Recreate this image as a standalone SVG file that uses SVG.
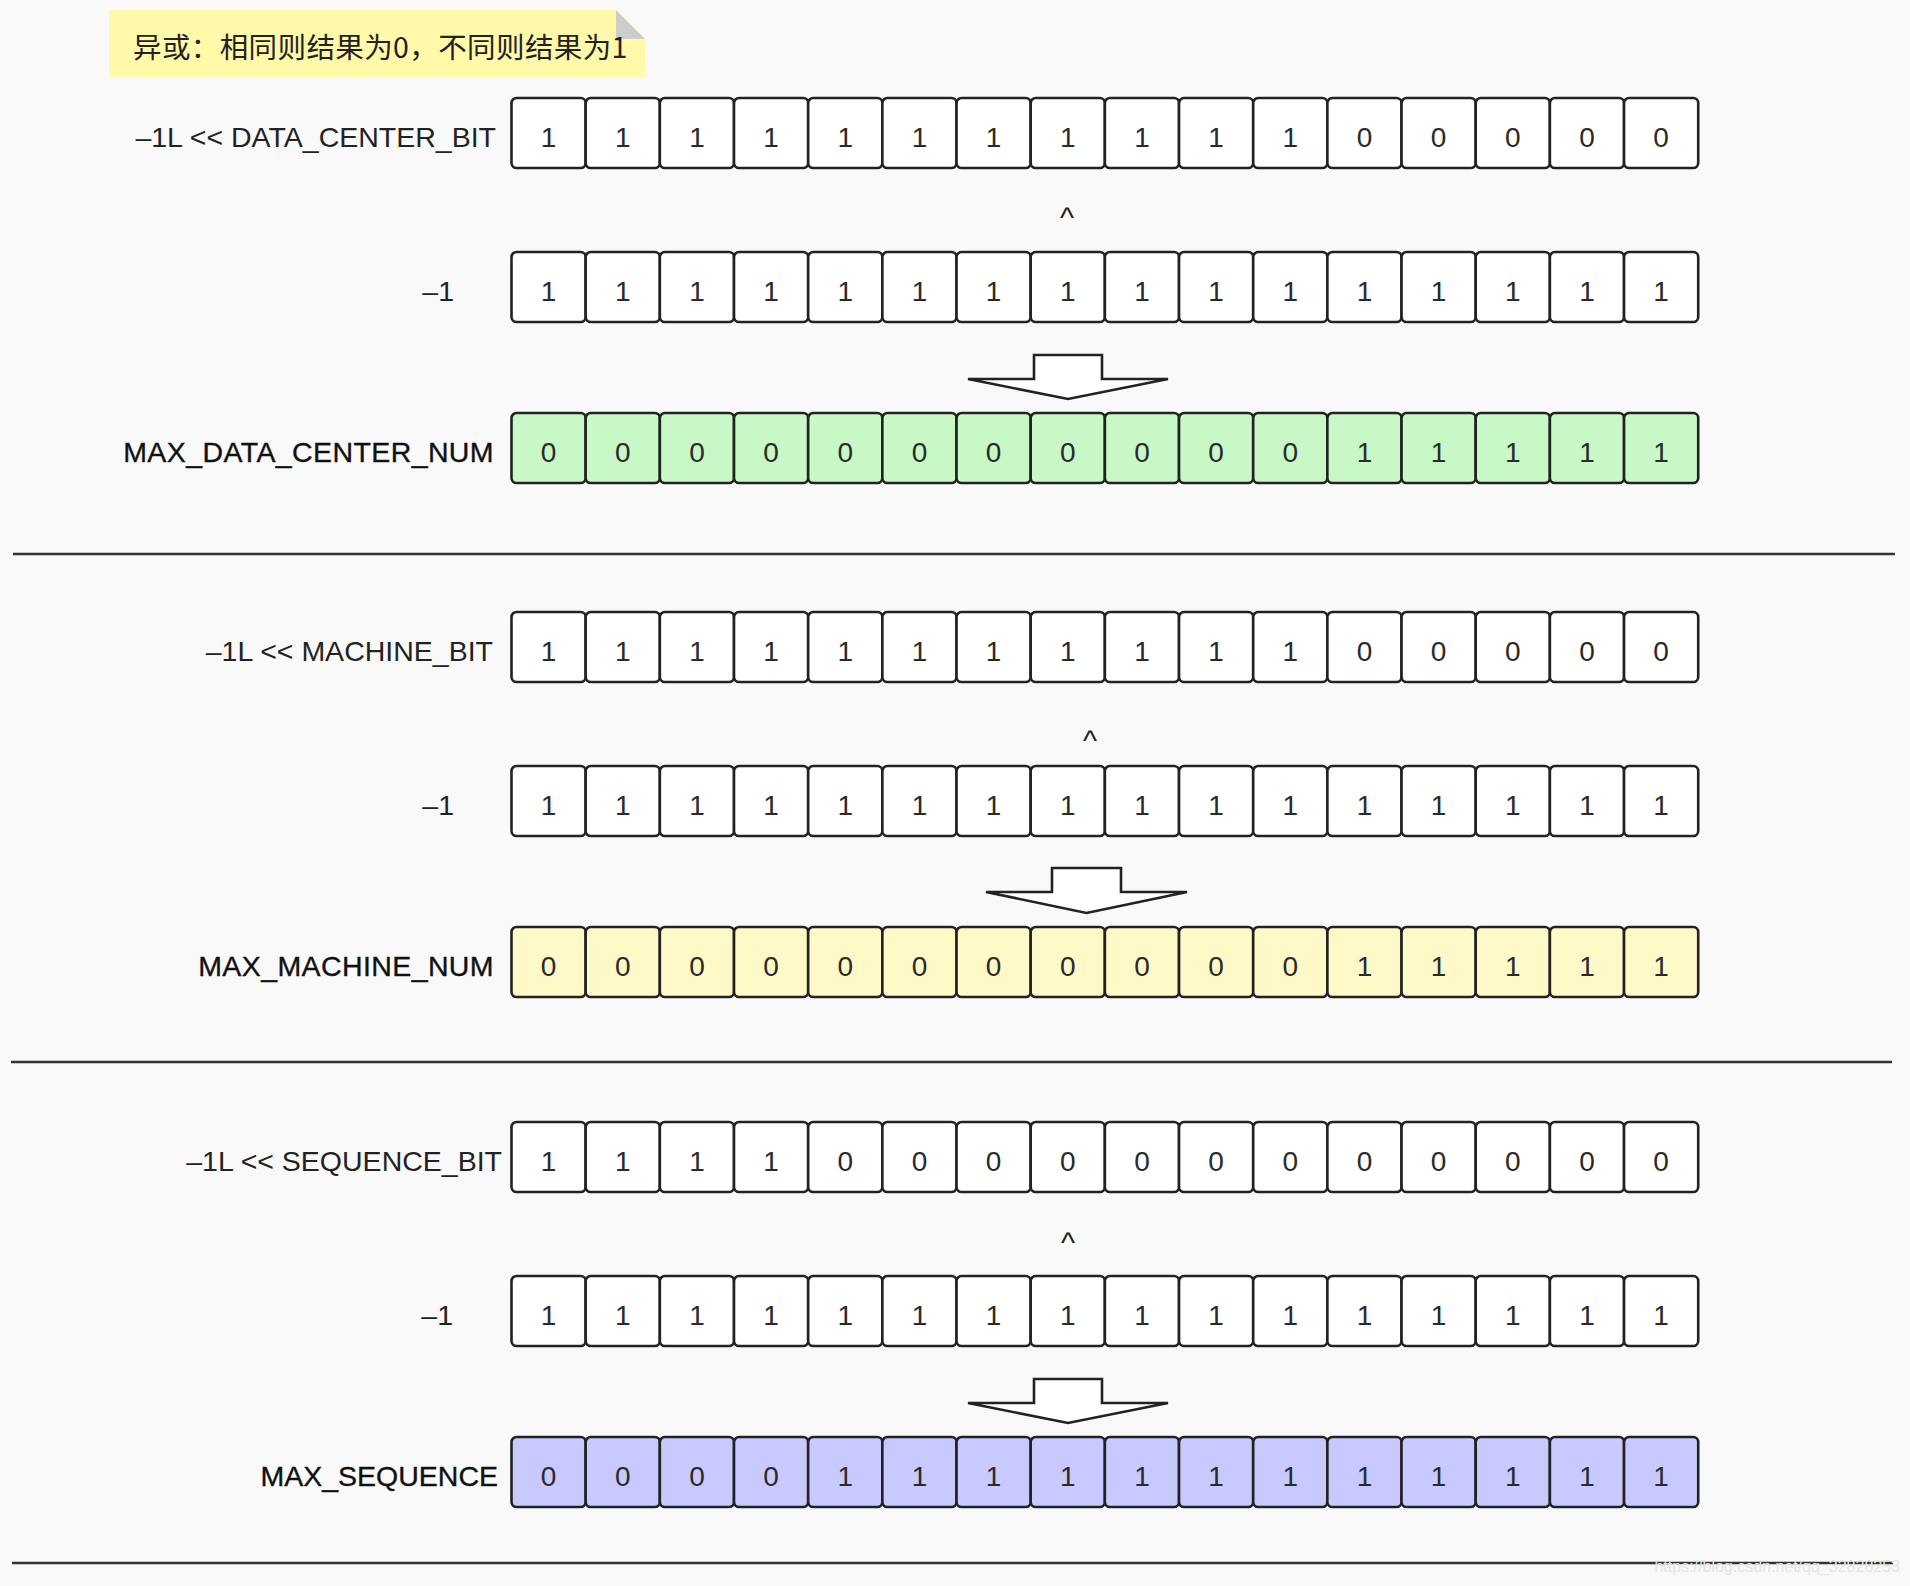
<svg xmlns="http://www.w3.org/2000/svg" width="1910" height="1586" viewBox="0 0 1910 1586">
<style>
.bg{fill:#f9f9f9}
.c{stroke:#222;stroke-width:2.6;rx:5;ry:5}
.w{fill:#ffffff}
.g{fill:#c8f8c6}
.y{fill:#fff9c8}
.b{fill:#c8caff}
.d{font-family:"Liberation Sans",Arial,sans-serif;font-size:28px;fill:#2a2a2a;text-anchor:middle}
.lbl{font-family:"Liberation Sans",Arial,sans-serif;font-size:28.5px;fill:#222;text-anchor:end}
.lbb{font-family:"Liberation Sans",Arial,sans-serif;font-size:28.5px;fill:#111;text-anchor:end;stroke:#111;stroke-width:0.35}
.car{font-family:"Liberation Sans",Arial,sans-serif;font-size:30px;fill:#222;text-anchor:middle}
.arr{fill:#fff;stroke:#222;stroke-width:2.6;stroke-linejoin:miter}
.sep{stroke:#333;stroke-width:2.6}
.note{font-family:"Noto Sans CJK SC","Liberation Sans",sans-serif;font-size:28.5px;letter-spacing:0.4px;fill:#222}
.wm{font-family:"Liberation Sans",Arial,sans-serif;font-size:16px;fill:#e4e4e4}
</style>
<rect class="bg" x="0" y="0" width="1910" height="1586"/>

<g id="note">
<path d="M109,10 H616 L645,39 V77 H109 Z" fill="#fff9a9"/>
<path d="M616,10 V39 H645 Z" fill="#cccccc"/>
<text class="note" x="133" y="58">异或：相同则结果为0，不同则结果为1</text>
</g>

<g id="row1" transform="translate(0,98)">
<text class="lbl" x="496" y="49">–1L &lt;&lt; DATA_CENTER_BIT</text>
<g class="w">
<rect class="c" x="511.5" y="0" width="74.17" height="70"/><rect class="c" x="585.67" y="0" width="74.17" height="70"/><rect class="c" x="659.84" y="0" width="74.17" height="70"/><rect class="c" x="734.01" y="0" width="74.17" height="70"/><rect class="c" x="808.18" y="0" width="74.17" height="70"/><rect class="c" x="882.35" y="0" width="74.17" height="70"/><rect class="c" x="956.52" y="0" width="74.17" height="70"/><rect class="c" x="1030.69" y="0" width="74.17" height="70"/><rect class="c" x="1104.86" y="0" width="74.17" height="70"/><rect class="c" x="1179.03" y="0" width="74.17" height="70"/><rect class="c" x="1253.2" y="0" width="74.17" height="70"/><rect class="c" x="1327.37" y="0" width="74.17" height="70"/><rect class="c" x="1401.54" y="0" width="74.17" height="70"/><rect class="c" x="1475.71" y="0" width="74.17" height="70"/><rect class="c" x="1549.88" y="0" width="74.17" height="70"/><rect class="c" x="1624.05" y="0" width="74.17" height="70"/>
</g>
<text class="d" x="548.59" y="48.5">1</text><text class="d" x="622.76" y="48.5">1</text><text class="d" x="696.93" y="48.5">1</text><text class="d" x="771.1" y="48.5">1</text><text class="d" x="845.27" y="48.5">1</text><text class="d" x="919.44" y="48.5">1</text><text class="d" x="993.61" y="48.5">1</text><text class="d" x="1067.78" y="48.5">1</text><text class="d" x="1141.95" y="48.5">1</text><text class="d" x="1216.12" y="48.5">1</text><text class="d" x="1290.29" y="48.5">1</text><text class="d" x="1364.46" y="48.5">0</text><text class="d" x="1438.63" y="48.5">0</text><text class="d" x="1512.8" y="48.5">0</text><text class="d" x="1586.97" y="48.5">0</text><text class="d" x="1661.14" y="48.5">0</text>
</g>

<g id="xor1"><text class="car" x="1067" y="228">^</text></g>

<g id="row2" transform="translate(0,252)">
<text class="lbl" x="454" y="49">–1</text>
<g class="w">
<rect class="c" x="511.5" y="0" width="74.17" height="70"/><rect class="c" x="585.67" y="0" width="74.17" height="70"/><rect class="c" x="659.84" y="0" width="74.17" height="70"/><rect class="c" x="734.01" y="0" width="74.17" height="70"/><rect class="c" x="808.18" y="0" width="74.17" height="70"/><rect class="c" x="882.35" y="0" width="74.17" height="70"/><rect class="c" x="956.52" y="0" width="74.17" height="70"/><rect class="c" x="1030.69" y="0" width="74.17" height="70"/><rect class="c" x="1104.86" y="0" width="74.17" height="70"/><rect class="c" x="1179.03" y="0" width="74.17" height="70"/><rect class="c" x="1253.2" y="0" width="74.17" height="70"/><rect class="c" x="1327.37" y="0" width="74.17" height="70"/><rect class="c" x="1401.54" y="0" width="74.17" height="70"/><rect class="c" x="1475.71" y="0" width="74.17" height="70"/><rect class="c" x="1549.88" y="0" width="74.17" height="70"/><rect class="c" x="1624.05" y="0" width="74.17" height="70"/>
</g>
<text class="d" x="548.59" y="48.5">1</text><text class="d" x="622.76" y="48.5">1</text><text class="d" x="696.93" y="48.5">1</text><text class="d" x="771.1" y="48.5">1</text><text class="d" x="845.27" y="48.5">1</text><text class="d" x="919.44" y="48.5">1</text><text class="d" x="993.61" y="48.5">1</text><text class="d" x="1067.78" y="48.5">1</text><text class="d" x="1141.95" y="48.5">1</text><text class="d" x="1216.12" y="48.5">1</text><text class="d" x="1290.29" y="48.5">1</text><text class="d" x="1364.46" y="48.5">1</text><text class="d" x="1438.63" y="48.5">1</text><text class="d" x="1512.8" y="48.5">1</text><text class="d" x="1586.97" y="48.5">1</text><text class="d" x="1661.14" y="48.5">1</text>
</g>

<g id="row3" transform="translate(0,413)">
<text class="lbb" x="494" y="49" letter-spacing="0.4">MAX_DATA_CENTER_NUM</text>
<g class="g">
<rect class="c" x="511.5" y="0" width="74.17" height="70"/><rect class="c" x="585.67" y="0" width="74.17" height="70"/><rect class="c" x="659.84" y="0" width="74.17" height="70"/><rect class="c" x="734.01" y="0" width="74.17" height="70"/><rect class="c" x="808.18" y="0" width="74.17" height="70"/><rect class="c" x="882.35" y="0" width="74.17" height="70"/><rect class="c" x="956.52" y="0" width="74.17" height="70"/><rect class="c" x="1030.69" y="0" width="74.17" height="70"/><rect class="c" x="1104.86" y="0" width="74.17" height="70"/><rect class="c" x="1179.03" y="0" width="74.17" height="70"/><rect class="c" x="1253.2" y="0" width="74.17" height="70"/><rect class="c" x="1327.37" y="0" width="74.17" height="70"/><rect class="c" x="1401.54" y="0" width="74.17" height="70"/><rect class="c" x="1475.71" y="0" width="74.17" height="70"/><rect class="c" x="1549.88" y="0" width="74.17" height="70"/><rect class="c" x="1624.05" y="0" width="74.17" height="70"/>
</g>
<text class="d" x="548.59" y="48.5">0</text><text class="d" x="622.76" y="48.5">0</text><text class="d" x="696.93" y="48.5">0</text><text class="d" x="771.1" y="48.5">0</text><text class="d" x="845.27" y="48.5">0</text><text class="d" x="919.44" y="48.5">0</text><text class="d" x="993.61" y="48.5">0</text><text class="d" x="1067.78" y="48.5">0</text><text class="d" x="1141.95" y="48.5">0</text><text class="d" x="1216.12" y="48.5">0</text><text class="d" x="1290.29" y="48.5">0</text><text class="d" x="1364.46" y="48.5">1</text><text class="d" x="1438.63" y="48.5">1</text><text class="d" x="1512.8" y="48.5">1</text><text class="d" x="1586.97" y="48.5">1</text><text class="d" x="1661.14" y="48.5">1</text>
</g>

<g id="row4" transform="translate(0,612)">
<text class="lbl" x="493" y="49">–1L &lt;&lt; MACHINE_BIT</text>
<g class="w">
<rect class="c" x="511.5" y="0" width="74.17" height="70"/><rect class="c" x="585.67" y="0" width="74.17" height="70"/><rect class="c" x="659.84" y="0" width="74.17" height="70"/><rect class="c" x="734.01" y="0" width="74.17" height="70"/><rect class="c" x="808.18" y="0" width="74.17" height="70"/><rect class="c" x="882.35" y="0" width="74.17" height="70"/><rect class="c" x="956.52" y="0" width="74.17" height="70"/><rect class="c" x="1030.69" y="0" width="74.17" height="70"/><rect class="c" x="1104.86" y="0" width="74.17" height="70"/><rect class="c" x="1179.03" y="0" width="74.17" height="70"/><rect class="c" x="1253.2" y="0" width="74.17" height="70"/><rect class="c" x="1327.37" y="0" width="74.17" height="70"/><rect class="c" x="1401.54" y="0" width="74.17" height="70"/><rect class="c" x="1475.71" y="0" width="74.17" height="70"/><rect class="c" x="1549.88" y="0" width="74.17" height="70"/><rect class="c" x="1624.05" y="0" width="74.17" height="70"/>
</g>
<text class="d" x="548.59" y="48.5">1</text><text class="d" x="622.76" y="48.5">1</text><text class="d" x="696.93" y="48.5">1</text><text class="d" x="771.1" y="48.5">1</text><text class="d" x="845.27" y="48.5">1</text><text class="d" x="919.44" y="48.5">1</text><text class="d" x="993.61" y="48.5">1</text><text class="d" x="1067.78" y="48.5">1</text><text class="d" x="1141.95" y="48.5">1</text><text class="d" x="1216.12" y="48.5">1</text><text class="d" x="1290.29" y="48.5">1</text><text class="d" x="1364.46" y="48.5">0</text><text class="d" x="1438.63" y="48.5">0</text><text class="d" x="1512.8" y="48.5">0</text><text class="d" x="1586.97" y="48.5">0</text><text class="d" x="1661.14" y="48.5">0</text>
</g>

<g id="xor2"><text class="car" x="1090" y="751">^</text></g>

<g id="row5" transform="translate(0,766)">
<text class="lbl" x="454" y="49">–1</text>
<g class="w">
<rect class="c" x="511.5" y="0" width="74.17" height="70"/><rect class="c" x="585.67" y="0" width="74.17" height="70"/><rect class="c" x="659.84" y="0" width="74.17" height="70"/><rect class="c" x="734.01" y="0" width="74.17" height="70"/><rect class="c" x="808.18" y="0" width="74.17" height="70"/><rect class="c" x="882.35" y="0" width="74.17" height="70"/><rect class="c" x="956.52" y="0" width="74.17" height="70"/><rect class="c" x="1030.69" y="0" width="74.17" height="70"/><rect class="c" x="1104.86" y="0" width="74.17" height="70"/><rect class="c" x="1179.03" y="0" width="74.17" height="70"/><rect class="c" x="1253.2" y="0" width="74.17" height="70"/><rect class="c" x="1327.37" y="0" width="74.17" height="70"/><rect class="c" x="1401.54" y="0" width="74.17" height="70"/><rect class="c" x="1475.71" y="0" width="74.17" height="70"/><rect class="c" x="1549.88" y="0" width="74.17" height="70"/><rect class="c" x="1624.05" y="0" width="74.17" height="70"/>
</g>
<text class="d" x="548.59" y="48.5">1</text><text class="d" x="622.76" y="48.5">1</text><text class="d" x="696.93" y="48.5">1</text><text class="d" x="771.1" y="48.5">1</text><text class="d" x="845.27" y="48.5">1</text><text class="d" x="919.44" y="48.5">1</text><text class="d" x="993.61" y="48.5">1</text><text class="d" x="1067.78" y="48.5">1</text><text class="d" x="1141.95" y="48.5">1</text><text class="d" x="1216.12" y="48.5">1</text><text class="d" x="1290.29" y="48.5">1</text><text class="d" x="1364.46" y="48.5">1</text><text class="d" x="1438.63" y="48.5">1</text><text class="d" x="1512.8" y="48.5">1</text><text class="d" x="1586.97" y="48.5">1</text><text class="d" x="1661.14" y="48.5">1</text>
</g>

<g id="row6" transform="translate(0,927)">
<text class="lbb" x="494" y="49" letter-spacing="0.4">MAX_MACHINE_NUM</text>
<g class="y">
<rect class="c" x="511.5" y="0" width="74.17" height="70"/><rect class="c" x="585.67" y="0" width="74.17" height="70"/><rect class="c" x="659.84" y="0" width="74.17" height="70"/><rect class="c" x="734.01" y="0" width="74.17" height="70"/><rect class="c" x="808.18" y="0" width="74.17" height="70"/><rect class="c" x="882.35" y="0" width="74.17" height="70"/><rect class="c" x="956.52" y="0" width="74.17" height="70"/><rect class="c" x="1030.69" y="0" width="74.17" height="70"/><rect class="c" x="1104.86" y="0" width="74.17" height="70"/><rect class="c" x="1179.03" y="0" width="74.17" height="70"/><rect class="c" x="1253.2" y="0" width="74.17" height="70"/><rect class="c" x="1327.37" y="0" width="74.17" height="70"/><rect class="c" x="1401.54" y="0" width="74.17" height="70"/><rect class="c" x="1475.71" y="0" width="74.17" height="70"/><rect class="c" x="1549.88" y="0" width="74.17" height="70"/><rect class="c" x="1624.05" y="0" width="74.17" height="70"/>
</g>
<text class="d" x="548.59" y="48.5">0</text><text class="d" x="622.76" y="48.5">0</text><text class="d" x="696.93" y="48.5">0</text><text class="d" x="771.1" y="48.5">0</text><text class="d" x="845.27" y="48.5">0</text><text class="d" x="919.44" y="48.5">0</text><text class="d" x="993.61" y="48.5">0</text><text class="d" x="1067.78" y="48.5">0</text><text class="d" x="1141.95" y="48.5">0</text><text class="d" x="1216.12" y="48.5">0</text><text class="d" x="1290.29" y="48.5">0</text><text class="d" x="1364.46" y="48.5">1</text><text class="d" x="1438.63" y="48.5">1</text><text class="d" x="1512.8" y="48.5">1</text><text class="d" x="1586.97" y="48.5">1</text><text class="d" x="1661.14" y="48.5">1</text>
</g>

<g id="row7" transform="translate(0,1122)">
<text class="lbl" x="502" y="49">–1L &lt;&lt; SEQUENCE_BIT</text>
<g class="w">
<rect class="c" x="511.5" y="0" width="74.17" height="70"/><rect class="c" x="585.67" y="0" width="74.17" height="70"/><rect class="c" x="659.84" y="0" width="74.17" height="70"/><rect class="c" x="734.01" y="0" width="74.17" height="70"/><rect class="c" x="808.18" y="0" width="74.17" height="70"/><rect class="c" x="882.35" y="0" width="74.17" height="70"/><rect class="c" x="956.52" y="0" width="74.17" height="70"/><rect class="c" x="1030.69" y="0" width="74.17" height="70"/><rect class="c" x="1104.86" y="0" width="74.17" height="70"/><rect class="c" x="1179.03" y="0" width="74.17" height="70"/><rect class="c" x="1253.2" y="0" width="74.17" height="70"/><rect class="c" x="1327.37" y="0" width="74.17" height="70"/><rect class="c" x="1401.54" y="0" width="74.17" height="70"/><rect class="c" x="1475.71" y="0" width="74.17" height="70"/><rect class="c" x="1549.88" y="0" width="74.17" height="70"/><rect class="c" x="1624.05" y="0" width="74.17" height="70"/>
</g>
<text class="d" x="548.59" y="48.5">1</text><text class="d" x="622.76" y="48.5">1</text><text class="d" x="696.93" y="48.5">1</text><text class="d" x="771.1" y="48.5">1</text><text class="d" x="845.27" y="48.5">0</text><text class="d" x="919.44" y="48.5">0</text><text class="d" x="993.61" y="48.5">0</text><text class="d" x="1067.78" y="48.5">0</text><text class="d" x="1141.95" y="48.5">0</text><text class="d" x="1216.12" y="48.5">0</text><text class="d" x="1290.29" y="48.5">0</text><text class="d" x="1364.46" y="48.5">0</text><text class="d" x="1438.63" y="48.5">0</text><text class="d" x="1512.8" y="48.5">0</text><text class="d" x="1586.97" y="48.5">0</text><text class="d" x="1661.14" y="48.5">0</text>
</g>

<g id="xor3"><text class="car" x="1068" y="1253">^</text></g>

<g id="row8" transform="translate(0,1276)">
<text class="lbl" x="453" y="49">–1</text>
<g class="w">
<rect class="c" x="511.5" y="0" width="74.17" height="70"/><rect class="c" x="585.67" y="0" width="74.17" height="70"/><rect class="c" x="659.84" y="0" width="74.17" height="70"/><rect class="c" x="734.01" y="0" width="74.17" height="70"/><rect class="c" x="808.18" y="0" width="74.17" height="70"/><rect class="c" x="882.35" y="0" width="74.17" height="70"/><rect class="c" x="956.52" y="0" width="74.17" height="70"/><rect class="c" x="1030.69" y="0" width="74.17" height="70"/><rect class="c" x="1104.86" y="0" width="74.17" height="70"/><rect class="c" x="1179.03" y="0" width="74.17" height="70"/><rect class="c" x="1253.2" y="0" width="74.17" height="70"/><rect class="c" x="1327.37" y="0" width="74.17" height="70"/><rect class="c" x="1401.54" y="0" width="74.17" height="70"/><rect class="c" x="1475.71" y="0" width="74.17" height="70"/><rect class="c" x="1549.88" y="0" width="74.17" height="70"/><rect class="c" x="1624.05" y="0" width="74.17" height="70"/>
</g>
<text class="d" x="548.59" y="48.5">1</text><text class="d" x="622.76" y="48.5">1</text><text class="d" x="696.93" y="48.5">1</text><text class="d" x="771.1" y="48.5">1</text><text class="d" x="845.27" y="48.5">1</text><text class="d" x="919.44" y="48.5">1</text><text class="d" x="993.61" y="48.5">1</text><text class="d" x="1067.78" y="48.5">1</text><text class="d" x="1141.95" y="48.5">1</text><text class="d" x="1216.12" y="48.5">1</text><text class="d" x="1290.29" y="48.5">1</text><text class="d" x="1364.46" y="48.5">1</text><text class="d" x="1438.63" y="48.5">1</text><text class="d" x="1512.8" y="48.5">1</text><text class="d" x="1586.97" y="48.5">1</text><text class="d" x="1661.14" y="48.5">1</text>
</g>

<g id="row9" transform="translate(0,1437)">
<text class="lbb" x="498" y="49">MAX_SEQUENCE</text>
<g class="b">
<rect class="c" x="511.5" y="0" width="74.17" height="70"/><rect class="c" x="585.67" y="0" width="74.17" height="70"/><rect class="c" x="659.84" y="0" width="74.17" height="70"/><rect class="c" x="734.01" y="0" width="74.17" height="70"/><rect class="c" x="808.18" y="0" width="74.17" height="70"/><rect class="c" x="882.35" y="0" width="74.17" height="70"/><rect class="c" x="956.52" y="0" width="74.17" height="70"/><rect class="c" x="1030.69" y="0" width="74.17" height="70"/><rect class="c" x="1104.86" y="0" width="74.17" height="70"/><rect class="c" x="1179.03" y="0" width="74.17" height="70"/><rect class="c" x="1253.2" y="0" width="74.17" height="70"/><rect class="c" x="1327.37" y="0" width="74.17" height="70"/><rect class="c" x="1401.54" y="0" width="74.17" height="70"/><rect class="c" x="1475.71" y="0" width="74.17" height="70"/><rect class="c" x="1549.88" y="0" width="74.17" height="70"/><rect class="c" x="1624.05" y="0" width="74.17" height="70"/>
</g>
<text class="d" x="548.59" y="48.5">0</text><text class="d" x="622.76" y="48.5">0</text><text class="d" x="696.93" y="48.5">0</text><text class="d" x="771.1" y="48.5">0</text><text class="d" x="845.27" y="48.5">1</text><text class="d" x="919.44" y="48.5">1</text><text class="d" x="993.61" y="48.5">1</text><text class="d" x="1067.78" y="48.5">1</text><text class="d" x="1141.95" y="48.5">1</text><text class="d" x="1216.12" y="48.5">1</text><text class="d" x="1290.29" y="48.5">1</text><text class="d" x="1364.46" y="48.5">1</text><text class="d" x="1438.63" y="48.5">1</text><text class="d" x="1512.8" y="48.5">1</text><text class="d" x="1586.97" y="48.5">1</text><text class="d" x="1661.14" y="48.5">1</text>
</g>

<g id="connectors">
<polygon class="arr" points="1034,355 1102,355 1102,379 1168,379 1068,399 968,379 1034,379"/>
<polygon class="arr" points="1052,868 1121,868 1121,892 1187,892 1086.5,913 986,892 1052,892"/>
<polygon class="arr" points="1034,1379 1102,1379 1102,1403 1168,1403 1068,1423 968,1403 1034,1403"/>
</g>

<g id="separators">
<line class="sep" x1="13" y1="554" x2="1895" y2="554"/>
<line class="sep" x1="11" y1="1062" x2="1892" y2="1062"/>
<line class="sep" x1="12" y1="1563" x2="1893" y2="1563"/>
</g>

<text class="wm" x="1900" y="1572" text-anchor="end">https://blog.csdn.net/qq_32828253</text>
</svg>
